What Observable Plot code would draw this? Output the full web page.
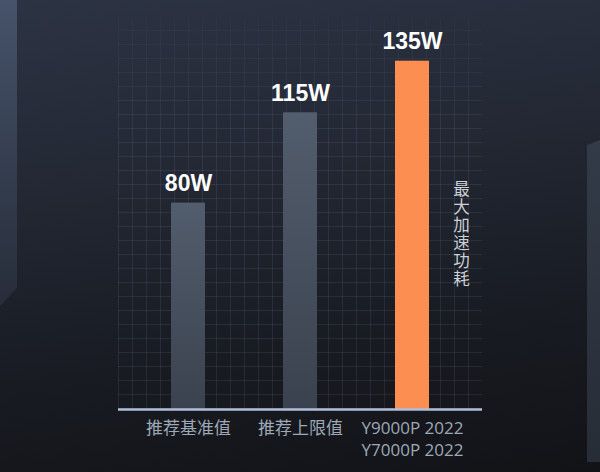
<!DOCTYPE html>
<html>
<head>
<meta charset="utf-8">
<script src="https://cdn.jsdelivr.net/npm/d3@7"></script>
<script src="https://cdn.jsdelivr.net/npm/@observablehq/plot@0.6"></script>
<style>
  html, body { margin: 0; padding: 0; background: #16181d; }
  #wrap {
    position: relative; width: 600px; height: 472px; overflow: hidden;
    background: linear-gradient(172deg, #2c3343 0%, #232834 35%, #181b22 70%, #121317 100%);
  }
  #leftPanel {
    position: absolute; left: 0; top: 0; width: 17px; height: 306px;
    background: linear-gradient(180deg, #46536a 0%, #333c4d 60%, #272d39 100%);
    clip-path: polygon(0 0, 100% 0, 100% 94%, 0 100%);
  }
  #rightPanel {
    position: absolute; left: 587px; top: 140px; width: 13px; height: 322px;
    background: linear-gradient(180deg, #333b48 0%, #272d37 100%);
    clip-path: polygon(0 5px, 100% 0, 100% 100%, 0 100%);
  }
  #grid {
    position: absolute; left: 118px; top: 18px; width: 364px; height: 391px;
    background-image:
      repeating-linear-gradient(90deg, rgba(140,155,180,0.13) 0 1px, transparent 1px 14px),
      repeating-linear-gradient(0deg, rgba(140,155,180,0.13) 0 1px, transparent 1px 14px);
    -webkit-mask-image: linear-gradient(180deg, rgba(0,0,0,0.3) 0%, #000 30%, #000 100%);
    mask-image: linear-gradient(180deg, rgba(0,0,0,0.3) 0%, #000 30%, #000 100%);
  }
  #chart { position: absolute; left: 0; top: 0; }
</style>
</head>
<body>
<div id="wrap">
  <div id="leftPanel"></div>
  <div id="rightPanel"></div>
  <div id="grid"></div>
  <div id="chart"></div>
</div>
<script>
const categories = ["推荐基准值", "推荐上限值", "Y9000P 2022\nY7000P 2022"];
const values = [80, 115, 135];
const valueLabels = ["80W", "115W", "135W"];
const barFills = ["url(#grayBar)", "url(#grayBar)", "#fd8e52"];
const noteText = "最大加速功耗";

const data = categories.map((c, i) => ({cat: c, value: values[i], label: valueLabels[i], fill: barFills[i]}));

const defs = () => {
  const svg = d3.create("svg:defs");
  const g = svg.append("linearGradient").attr("id", "grayBar").attr("x1", 0).attr("y1", 0).attr("x2", 0).attr("y2", 1);
  g.append("stop").attr("offset", "0%").attr("stop-color", "#525d6d");
  g.append("stop").attr("offset", "100%").attr("stop-color", "#3b424f");
  return svg.node();
};

const verticalText = (index, scales, values, dims, context, next) => {
  const g = next(index, scales, values, dims, context);
  g.querySelectorAll("text").forEach(t => {
    t.setAttribute("writing-mode", "vertical-rl");
    t.removeAttribute("dy");
    t.style.letterSpacing = "1.5px";
  });
  return g;
};

const chart = Plot.plot({
  width: 600,
  height: 472,
  marginLeft: 118,
  marginRight: 118,
  marginTop: 22,
  marginBottom: 63,
  style: {background: "transparent", overflow: "visible"},
  x: {domain: categories, paddingInner: 0.7, paddingOuter: 0.47, label: null},
  y: {domain: [0, 150], axis: null},
  color: {type: "identity"},
  marks: [
    defs,
    Plot.barY(data, {x: "cat", y: "value", fill: "fill"}),
    Plot.ruleY([0], {stroke: "#b0bfd8", strokeWidth: 2.5}),
    Plot.axisX({
      tickSize: 0, tickPadding: 9, fontSize: 17, lineHeight: 1.3,
      fill: "#9ea8b6", fontFamily: "'Open Sans', 'Noto Sans CJK SC'", fontWeight: 400, label: null
    }),
    Plot.text(data, {
      x: "cat", y: "value", text: "label", dy: -12, lineAnchor: "bottom",
      fill: "#ffffff", fontSize: 23, fontWeight: "bold", fontFamily: "Liberation Sans"
    }),
    Plot.text(data.slice(2), {
      x: "cat", y: "value", text: () => noteText, dx: 49, dy: 114, textAnchor: "start",
      fill: "#cdd1d7", fontSize: 16.5, fontFamily: "Noto Sans CJK SC", fontWeight: 400,
      render: verticalText
    })
  ]
});
document.getElementById("chart").appendChild(chart);
</script>
</body>
</html>
